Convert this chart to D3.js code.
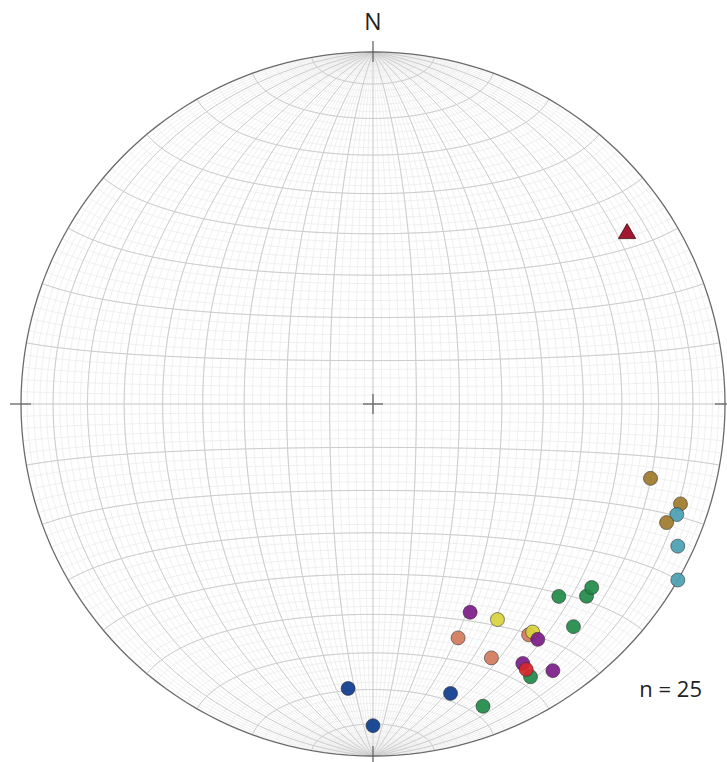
<!DOCTYPE html>
<html>
<head>
<meta charset="utf-8">
<script src="https://cdnjs.cloudflare.com/ajax/libs/d3/7.8.5/d3.min.js"></script>
<style>
  html, body { margin: 0; padding: 0; background: #fff; }
  svg { display: block; font-family: "Open Sans", sans-serif; }
</style>
</head>
<body>
<div id="graph_01"></div>
<script>

// Données : linéations (direction / plongement, en degrés)

const pointSet = ['brun', 'brun', 'bleu-vert', 'brun', 'bleu-vert', 'bleu-vert',
  'vert', 'vert', 'vert', 'vert', 'violet', 'jaune', 'orange', 'orange', 'jaune',
  'violet', 'orange', 'vert', 'violet', 'rouge', 'violet', 'marine', 'vert', 'marine', 'marine']
const pointTrend = [105, 108, 110, 112, 115, 120, 132, 130, 136, 138, 155, 150, 160, 146, 145,
  145, 155, 150, 150, 150, 146, 165, 160, 185, 180]
const pointPlunge = [19.5, 9, 9, 11, 5, 0, 19.5, 20, 25, 16, 35, 30, 30, 22, 22,
  19.5, 21.5, 11.5, 16, 14, 9.5, 16, 9.5, 20, 9.5]

// Vecteur moyen (triangle)
const meanTrend = [56]
const meanPlunge = [14]

const nLabel = 'n = 25'

//---------------------------------------------------------------------------------------

// Couleurs

const paletteCouleurs = {
  'brun': '#9e7a2b',
  'bleu-vert': '#4a9fb3',
  'vert': '#1f8a47',
  'violet': '#7c1b88',
  'jaune': '#d8d23c',
  'orange': '#d27a5a',
  'rouge': '#d8262b',
  'marine': '#0c3b8c'
}

//---------------------------------------------------------------------------------------

// Canevas

const width = 727
const height = 762
const cx = 373
const cy = 404
const radius = 352

const svg = d3.select('#graph_01')
  .append('svg')
  .attr('width', width)
  .attr('height', height)

// Projection équivalente (canevas de Schmidt, hémisphère inférieur)
const projection = d3.geoAzimuthalEqualArea()
  .rotate([0, 0])
  .clipAngle(90)
  .scale(radius / Math.SQRT2)
  .translate([cx, cy])
  .precision(0.1)

const path = d3.geoPath(projection)

// direction / plongement -> lon / lat sur la sphère
const toRad = Math.PI / 180
const lineToLonLat = (trend, plunge) => {
  const t = trend * toRad, p = plunge * toRad
  const lat = Math.asin(Math.cos(p) * Math.cos(t)) / toRad
  const lon = Math.atan2(Math.cos(p) * Math.sin(t), Math.sin(p)) / toRad
  return [lon, lat]
}

//---------------------------------------------------------------------------------------

// Grille

const gridMinor = d3.geoGraticule()
  .extent([[-90, -90], [90.01, 90.01]])
  .step([2, 2])

const gridMajor = d3.geoGraticule()
  .extent([[-90, -90], [90.01, 90.01]])
  .step([10, 10])

svg.append('path')
  .datum(gridMinor())
  .attr('d', path)
  .attr('fill', 'none')
  .attr('stroke', '#e9e9e9')
  .attr('stroke-width', 0.7)

svg.append('path')
  .datum(gridMajor())
  .attr('d', path)
  .attr('fill', 'none')
  .attr('stroke', '#cdcdcd')
  .attr('stroke-width', 1)

// Cercle primitif
svg.append('path')
  .datum({ type: 'Sphere' })
  .attr('d', path)
  .attr('fill', 'none')
  .attr('stroke', '#6a6a6a')
  .attr('stroke-width', 1.3)

//---------------------------------------------------------------------------------------

// Repères (croix centrale et tirets cardinaux)

const ticks = svg.append('g')
  .attr('stroke', '#666')
  .attr('stroke-width', 1.3)

ticks.append('line').attr('x1', cx - 10).attr('x2', cx + 10).attr('y1', cy).attr('y2', cy)
ticks.append('line').attr('x1', cx).attr('x2', cx).attr('y1', cy - 10).attr('y2', cy + 10)

;[[0, -1], [0, 1], [-1, 0], [1, 0]].forEach(([dx, dy]) => {
  ticks.append('line')
    .attr('x1', cx + dx * (radius - 10)).attr('y1', cy + dy * (radius - 10))
    .attr('x2', cx + dx * (radius + 11)).attr('y2', cy + dy * (radius + 11))
})

svg.append('text')
  .attr('x', cx)
  .attr('y', 30)
  .attr('text-anchor', 'middle')
  .attr('font-size', 23)
  .attr('fill', '#222')
  .text('N')

//---------------------------------------------------------------------------------------

// Points

const pointsData = pointSet.map((s, i) => ({
  set: s,
  pos: projection(lineToLonLat(pointTrend[i], pointPlunge[i]))
}))

svg.append('g')
  .selectAll('circle')
  .data(pointsData)
  .join('circle')
  .attr('cx', d => d.pos[0])
  .attr('cy', d => d.pos[1])
  .attr('r', 7)
  .attr('fill', d => paletteCouleurs[d.set])
  .attr('fill-opacity', 0.92)
  .attr('stroke', '#2b2b2b')
  .attr('stroke-opacity', 0.7)
  .attr('stroke-width', 0.8)

// Triangle (vecteur moyen)
const meanData = meanTrend.map((t, i) => projection(lineToLonLat(t, meanPlunge[i])))

svg.append('g')
  .selectAll('path')
  .data(meanData)
  .join('path')
  .attr('transform', d => `translate(${d[0]},${d[1] + 1})`)
  .attr('d', d3.symbol(d3.symbolTriangle, 130))
  .attr('fill', '#a3172f')
  .attr('stroke', '#3a1010')
  .attr('stroke-width', 0.8)

//---------------------------------------------------------------------------------------

// Effectif

svg.append('text')
  .attr('x', 702)
  .attr('y', 697)
  .attr('text-anchor', 'end')
  .attr('font-size', 22)
  .attr('fill', '#222')
  .text(nLabel)

</script>
</body>
</html>
